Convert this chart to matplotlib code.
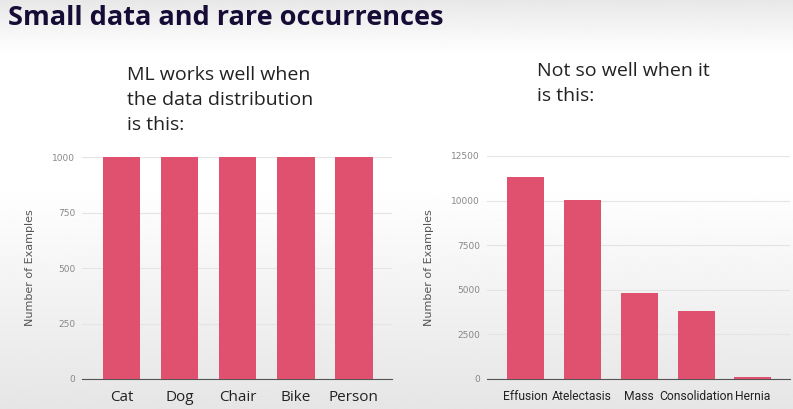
import numpy as np
import matplotlib.pyplot as plt

# данные
left_cats = ["Cat", "Dog", "Chair", "Bike", "Person"]
left_vals = [1000, 1000, 1000, 1000, 1000]
left_ticks = [0, 250, 500, 750, 1000]

right_cats = ["Effusion", "Atelectasis", "Mass", "Consolidation", "Hernia"]
right_vals = [11300, 10050, 4830, 3820, 110]
right_ticks = [0, 2500, 5000, 7500, 10000, 12500]

bar_color = "#e0506f"
W, H = 793, 409

fig = plt.figure(figsize=(W / 100, H / 100), dpi=100)

# фон: серая полоса сверху и лёгкий серый градиент снизу
bg = fig.add_axes([0, 0, 1, 1], zorder=-10)
ys = np.linspace(0, 1, 400)
shade = np.ones_like(ys)
top = ys < 0.13
shade[top] = 0.91 + 0.09 * (ys[top] / 0.13)
bot = ys > 0.45
shade[bot] = 1 - 0.10 * ((ys[bot] - 0.45) / 0.55)
img = np.tile(shade[:, None], (1, 10))
bg.imshow(img, cmap="gray", vmin=0, vmax=1, aspect="auto", extent=[0, 1, 1, 0])
bg.axis("off")

fig.text(8 / W, 1 - 18 / H, "Small data and rare occurrences", fontsize=19.5,
         fontweight="bold", color="#160c35", family="Open Sans", va="center")

fig.text(127 / W, 1 - 66 / H, "ML works well when\nthe data distribution\nis this:",
         fontsize=14, color="#222222", va="top", linespacing=1.5, family="Open Sans")
fig.text(537 / W, 1 - 62 / H, "Not so well when it\nis this:",
         fontsize=14, color="#222222", va="top", linespacing=1.5, family="Open Sans")


def bar_panel(rect, cats, vals, ticks, xlim, width, xfs, xfam):
    ax = fig.add_axes(rect)
    ax.patch.set_alpha(0)
    x = np.arange(len(cats))
    ax.bar(x, vals, width=width, color=bar_color, zorder=3)
    ax.set_xlim(*xlim)
    ax.set_ylim(0, ticks[-1])
    ax.set_yticks(ticks)
    ax.set_xticks(x)
    ax.set_xticklabels(cats, fontsize=xfs, color="#222222", family=xfam)
    ax.tick_params(axis="x", length=0, pad=8)
    ax.tick_params(axis="y", length=0, labelsize=6.5, labelcolor="#888888", pad=5)
    ax.grid(axis="y", color="#e4e4e4", linewidth=0.8, zorder=0)
    for s in ["top", "right", "left"]:
        ax.spines[s].set_visible(False)
    ax.spines["bottom"].set_color("#555555")
    ax.set_ylabel("Number of Examples", fontsize=8, color="#555555")
    return ax


ax1 = bar_panel([82 / W, 30 / H, 310 / W, 222 / H], left_cats, left_vals, left_ticks,
                (-0.68, 4.66), 0.65, 11, "Open Sans")
ax1.yaxis.set_label_coords(-(82 - 35) / 310, 0.5)

ax2 = bar_panel([487 / W, 30 / H, 303 / W, 223 / H], right_cats, right_vals, right_ticks,
                (-0.67, 4.65), 0.65, 8.7, "Roboto")
ax2.yaxis.set_label_coords(-(487 - 434) / 303, 0.5)

plt.savefig("out.png", dpi=100)
plt.close(fig)
